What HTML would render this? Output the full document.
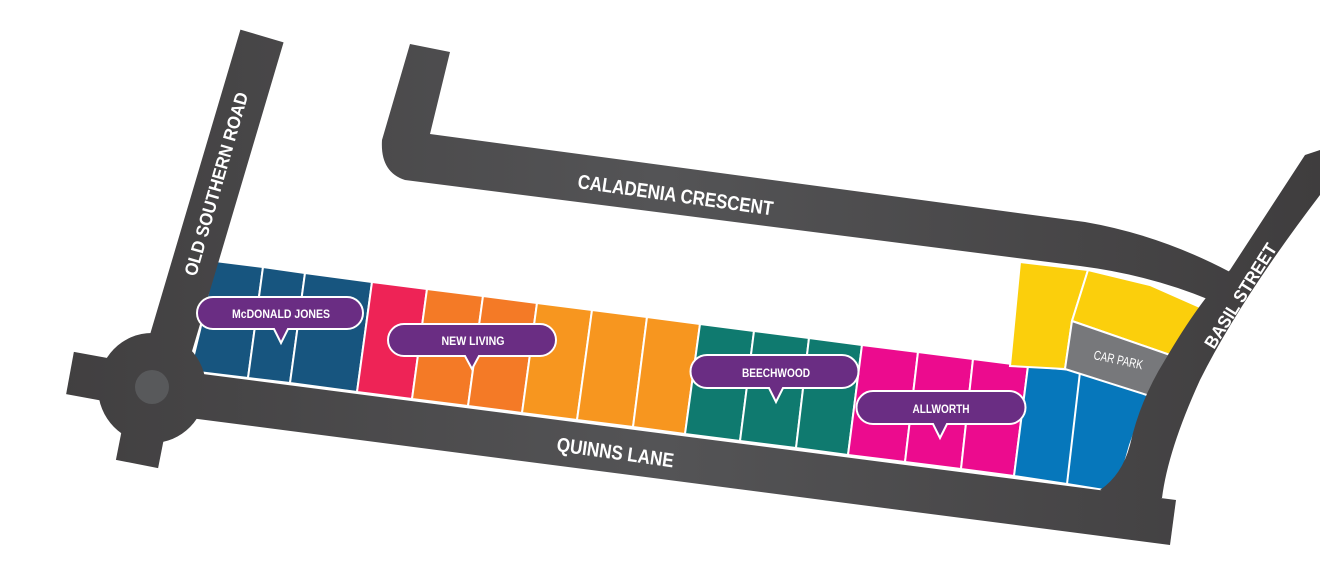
<!DOCTYPE html>
<html><head><meta charset="utf-8"><style>
html,body{margin:0;padding:0;background:#fff}
svg{display:block}
text{font-family:"Liberation Sans",sans-serif;font-weight:bold;fill:#fff}
</style></head><body>
<svg width="1320" height="576" viewBox="0 0 1320 576" xmlns="http://www.w3.org/2000/svg">
<defs>
<linearGradient id="rg" gradientUnits="userSpaceOnUse" x1="0" y1="0" x2="1320" y2="0">
<stop offset="0" stop-color="#3f3d3e"/><stop offset="0.5" stop-color="#545456"/><stop offset="1" stop-color="#3f3d3e"/>
</linearGradient>
</defs>
<!-- lots -->
<g stroke="#fff" stroke-width="2">
<polygon points="215,261 263,267 248,378 190,371 200,330" fill="#17557f"/>
<polygon points="263,267 305,273 290,383 248,378" fill="#17557f"/>
<polygon points="305,273 372,282 357,392 290,383" fill="#17557f"/>
<polygon points="372,282 427,289 412,399 357,392" fill="#ee2356"/>
<polygon points="427,289 483,296 468,406 412,399" fill="#f47a26"/>
<polygon points="483,296 537,303 522,413 468,406" fill="#f47a26"/>
<polygon points="537,303 592,310 577,420 522,413" fill="#f7961f"/>
<polygon points="592,310 647,317 633,427 577,420" fill="#f7961f"/>
<polygon points="647,317 700,324 685,434 633,427" fill="#f7961f"/>
<polygon points="700,324 754,331 740,441 685,434" fill="#0f7a6f"/>
<polygon points="754,331 809,338 796,448 740,441" fill="#0f7a6f"/>
<polygon points="809,338 862,345 848,455 796,448" fill="#0f7a6f"/>
<polygon points="862,345 918,352 905,462 848,455" fill="#ec0b8e"/>
<polygon points="918,352 973,359 961,469 905,462" fill="#ec0b8e"/>
<polygon points="973,359 1028,366 1014,476 961,469" fill="#ec0b8e"/>
<polygon points="1028,366 1072,370 1148,395 1130,445 1120,480 1104,490 1067,484 1014,476" fill="#0677bb"/>
<line x1="1080" y1="372" x2="1067" y2="484"/>
<polygon points="1020,262 1088,270 1072,321 1065,369 1010,366" fill="#fbcf0c"/>
<polygon points="1088,270 1150,285 1202,308 1173,356 1072,321" fill="#fbcf0c"/>
<polygon points="1072,321 1173,356 1150,396 1065,369" fill="#77787b"/>
</g>
<!-- roads -->
<g fill="url(#rg)" stroke="url(#rg)">
<line x1="262" y1="36" x2="160" y2="380" stroke-width="45"/>
<line x1="70" y1="373" x2="152" y2="388" stroke-width="43"/>
<line x1="137" y1="464" x2="152" y2="388" stroke-width="43"/>
<polygon points="195,373 1176,500 1170,545 190,418" stroke="none"/>
<ellipse cx="152" cy="388" rx="54" ry="55" stroke="none"/>
<path stroke="none" d="M410,44 L450,52 L430,134 L1085,222 Q1160,235 1230,272 L1210,300 Q1150,275 1080,266 L405,180 Q380,172 382,140 Z"/>
<path stroke="none" d="M1305,155 L1320,150 L1320,195 Q1240,300 1200,380 Q1168,450 1162,498 L1125,498 L1100,490 Q1122,475 1130,445 Q1140,400 1165,360 Q1200,300 1230,270 Z"/>
</g>
<!-- roundabout arm ends (flat caps) -->
<ellipse cx="152" cy="387" rx="17" ry="17" fill="#58595b"/>
<!-- road labels -->
<text x="0" y="0" font-size="20" textLength="197" lengthAdjust="spacingAndGlyphs" transform="translate(577,188) rotate(8)">CALADENIA CRESCENT</text>
<text x="0" y="0" font-size="20" textLength="118" lengthAdjust="spacingAndGlyphs" transform="translate(556,451) rotate(8)">QUINNS LANE</text>
<text x="0" y="0" font-size="18" textLength="190" lengthAdjust="spacingAndGlyphs" transform="translate(196,277) rotate(-74)">OLD SOUTHERN ROAD</text>
<text x="0" y="0" font-size="18" textLength="120" lengthAdjust="spacingAndGlyphs" transform="translate(1214,350) rotate(-58)">BASIL STREET</text>
<text x="0" y="0" font-size="13" textLength="50" lengthAdjust="spacingAndGlyphs" style="font-weight:normal" transform="translate(1093,359) rotate(12)">CAR PARK</text>
<!-- callouts -->
<g fill="#6a2d83" stroke="#fff" stroke-width="2">
<path d="M213,297 H347 A16,16 0 0 1 347,329 H288 L281,343 L274,329 H213 A16,16 0 0 1 213,297 Z"/>
<path d="M404,324 H540 A16,16 0 0 1 540,356 H479 L472,369 L465,356 H404 A16,16 0 0 1 404,324 Z"/>
<path d="M707,355 H842 A16.5,16.5 0 0 1 842,388 H783 L776,402 L769,388 H707 A16.5,16.5 0 0 1 707,355 Z"/>
<path d="M873,391 H1009 A16.5,16.5 0 0 1 1009,424 H947 L940,438 L933,424 H873 A16.5,16.5 0 0 1 873,391 Z"/>
</g>
<g font-size="12" text-anchor="middle">
<text x="281" y="318" textLength="98" lengthAdjust="spacingAndGlyphs">McDONALD JONES</text>
<text x="473" y="345" textLength="63" lengthAdjust="spacingAndGlyphs">NEW LIVING</text>
<text x="776" y="377" textLength="68" lengthAdjust="spacingAndGlyphs">BEECHWOOD</text>
<text x="941" y="413" textLength="57" lengthAdjust="spacingAndGlyphs">ALLWORTH</text>
</g>
</svg>
</body></html>
